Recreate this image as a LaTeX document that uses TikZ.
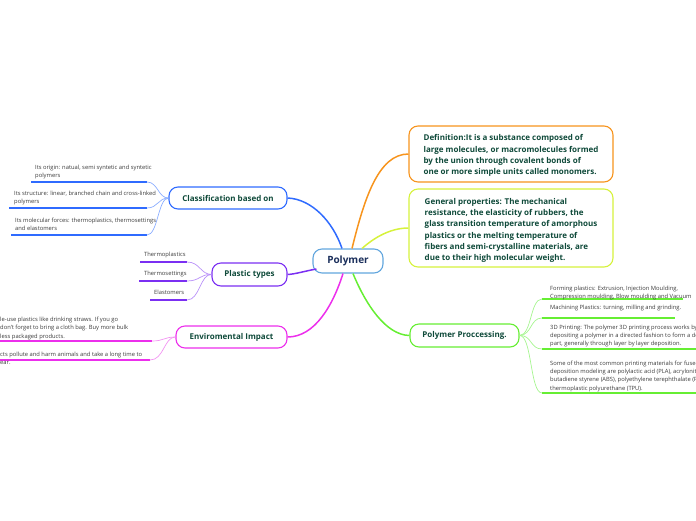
\documentclass[tikz,border=0pt]{standalone}
\usepackage{fontspec}
\setmainfont{Open Sans}
\usetikzlibrary{calc}
\definecolor{polyc}{HTML}{62A6DE}
\definecolor{bluec}{HTML}{2F6BFF}
\definecolor{bluel}{HTML}{8CAEFF}
\definecolor{orangec}{HTML}{F7941D}
\definecolor{yellowc}{HTML}{D6F23C}
\definecolor{purplec}{HTML}{7B2FF2}
\definecolor{purplel}{HTML}{B890F8}
\definecolor{magc}{HTML}{EC2FEC}
\definecolor{magl}{HTML}{F294F2}
\definecolor{greenc}{HTML}{66EE33}
\definecolor{greenl}{HTML}{A6F590}
\definecolor{navyc}{HTML}{1B2F5C}
\definecolor{tealc}{HTML}{0F4A3A}
\definecolor{leafc}{HTML}{3A3A3A}
\begin{document}
\begin{tikzpicture}[x=1pt,y=-1pt,
  topic/.style={draw, rounded corners=9pt, line width=1.1pt, fill=white, inner sep=0pt, text=tealc, font=\fontsize{8}{10}\selectfont\bfseries},
  bigtopic/.style={topic, align=left, font=\fontsize{8}{11.2}\selectfont\bfseries},
  leaf/.style={anchor=north west, inner sep=0pt, align=left, text=leafc, font=\fontsize{5.8}{8.3}\selectfont},
  branch/.style={line width=1.5pt},
  uline/.style={line width=1.6pt},
  twig/.style={line width=0.7pt}]
\useasboundingbox (0,0) rectangle (696,520);
\clip (0,0) rectangle (696,520);

% central
\node[topic, draw=polyc, text=navyc, font=\fontsize{10}{12}\selectfont\bfseries, minimum width=70pt, minimum height=24pt] (poly) at (348,261) {Polymer};

% main topics
\node[topic, draw=bluec, minimum width=118pt, minimum height=22pt] (class) at (228,198) {Classification based on};
\node[topic, draw=purplec, minimum width=75pt, minimum height=23pt] (plast) at (249.5,274.5) {Plastic types};
\node[topic, draw=magc, minimum width=111pt, minimum height=22pt] (env) at (231.5,337) {Enviromental Impact};
\node[topic, draw=greenc, minimum width=109pt, minimum height=23pt] (proc) at (464.5,335.5) {Polymer Proccessing.};
\node[bigtopic, draw=orangec, minimum width=204pt, minimum height=56pt] (def) at (511,154) {\rule{0pt}{9.5pt}Definition:It is a substance composed of\\large molecules, or macromolecules formed\\by the union through covalent bonds of\\one or more simple units called monomers.};
\node[bigtopic, draw=yellowc, minimum width=204pt, minimum height=78pt] (gen) at (511,228) {\rule{0pt}{11pt}General properties: The mechanical\\resistance, the elasticity of rubbers, the\\glass transition temperature of amorphous\\plastics or the melting temperature of\\fibers and semi-crystalline materials, are\\due to their high molecular weight.};

% branches
\draw[branch, bluec] (class.east) .. controls (312,199) and (333,222) .. ($(poly.north)+(-6,0)$);
\draw[branch, orangec] ($(poly.north)+(4,0)$) .. controls (364,200) and (378,154) .. (def.west);
\draw[branch, yellowc] ($(poly.north)+(14,0)$) .. controls (376,236) and (392,228) .. (gen.west);
\draw[branch, purplec] ($(poly.west)+(4,8)$) .. controls (305,271) and (296,274) .. (plast.east);
\draw[branch, magc] ($(poly.south)+(-5,0)$) .. controls (333,305) and (315,337) .. (env.east);
\draw[branch, greenc] ($(poly.south)+(5,0)$) .. controls (366,305) and (386,335) .. (proc.west);

% classification leaves
\coordinate (c1a) at (31,182); \coordinate (c1b) at (147,182);
\coordinate (c2a) at (9,208);  \coordinate (c2b) at (147,208);
\coordinate (c3a) at (11,235); \coordinate (c3b) at (147,235);
\draw[uline, bluec] (c1a) -- (c1b);
\draw[uline, bluec] (c2a) -- (c2b);
\draw[uline, bluec] (c3a) -- (c3b);
\draw[twig, bluel] (class.west) .. controls (158,198) and (158,182) .. (c1b);
\draw[twig, bluel] (class.west) .. controls (158,198) and (158,208) .. (c2b);
\draw[twig, bluel] (class.west) .. controls (158,198) and (158,235) .. (c3b);
\node[leaf] (c1t) at (35,164.5) {Its origin: natual, semi syntetic and syntetic\\polymers};
\node[leaf] (c2t) at (14,190.5) {Its structure: linear, branched chain and cross-linked\\polymers};
\node[leaf] (c3t) at (15,217.5) {Its molecular forces: thermoplastics, thermosettings\\and elastomers};

% plastic type leaves
\coordinate (p1a) at (140,262); \coordinate (p1b) at (187,262);
\coordinate (p2a) at (139,281); \coordinate (p2b) at (187,281);
\coordinate (p3a) at (150,300); \coordinate (p3b) at (187,300);
\draw[uline, purplec] (p1a) -- (p1b);
\draw[uline, purplec] (p2a) -- (p2b);
\draw[uline, purplec] (p3a) -- (p3b);
\draw[twig, purplel] (plast.west) .. controls (200,274) and (200,262) .. (p1b);
\draw[twig, purplel] (plast.west) .. controls (200,274) and (200,281) .. (p2b);
\draw[twig, purplel] (plast.west) .. controls (200,274) and (200,300) .. (p3b);
\node[leaf] (p1t) at (144,251.5) {Thermoplastics};
\node[leaf] (p2t) at (144,270.5) {Thermosettings};
\node[leaf] (p3t) at (154,289.5) {Elastomers};

% environmental leaves
\coordinate (e1a) at (0,341); \coordinate (e1b) at (152,341);
\coordinate (e2a) at (0,360); \coordinate (e2b) at (150,360);
\draw[uline, magc] (e1a) -- (e1b);
\draw[uline, magc] (e2a) -- (e2b);
\draw[twig, magl] (env.west) .. controls (164,337) and (164,341) .. (e1b);
\draw[twig, magl] (env.west) .. controls (164,337) and (164,360) .. (e2b);
\node[leaf] (e1t) at (0,317) {le-use plastics like drinking straws. If you go\\don't forget to bring a cloth bag. Buy more bulk\\less packaged products.};
\node[leaf] (e2t) at (0,351.5) {cts pollute and harm animals and take a long time to\\ear.};

% processing leaves
\coordinate (g1a) at (542,299); \coordinate (g1b) at (683,299);
\coordinate (g2a) at (542,318); \coordinate (g2b) at (675,318);
\coordinate (g3a) at (542,349); \coordinate (g3b) at (700,349);
\coordinate (g4a) at (542,393); \coordinate (g4b) at (700,393);
\draw[uline, greenc] (g1a) -- (g1b);
\draw[uline, greenc] (g2a) -- (g2b);
\draw[uline, greenc] (g3a) -- (g3b);
\draw[uline, greenc] (g4a) -- (g4b);
\draw[twig, greenl] (proc.east) .. controls (532,335) and (530,299) .. (g1a);
\draw[twig, greenl] (proc.east) .. controls (532,335) and (530,318) .. (g2a);
\draw[twig, greenl] (proc.east) .. controls (532,335) and (530,349) .. (g3a);
\draw[twig, greenl] (proc.east) .. controls (532,335) and (530,393) .. (g4a);
\node[leaf] (g1t) at (550,285.5) {Forming plastics: Extrusion, Injection Moulding,\\Compression moulding, Blow moulding and Vacuum};
\node[leaf] (g2t) at (550,305) {Machining Plastics: turning, milling and grinding.};
\node[leaf] (g3t) at (550,324.5) {3D Printing: The polymer 3D printing process works by\\depositing a polymer in a directed fashion to form a desired\\part, generally through layer by layer deposition.};
\node[leaf] (g4t) at (550,360.5) {Some of the most common printing materials for fused\\deposition modeling are polylactic acid (PLA), acrylonitrile\\butadiene styrene (ABS), polyethylene terephthalate (PET) and\\thermoplastic polyurethane (TPU).};
\end{tikzpicture}
\end{document}
